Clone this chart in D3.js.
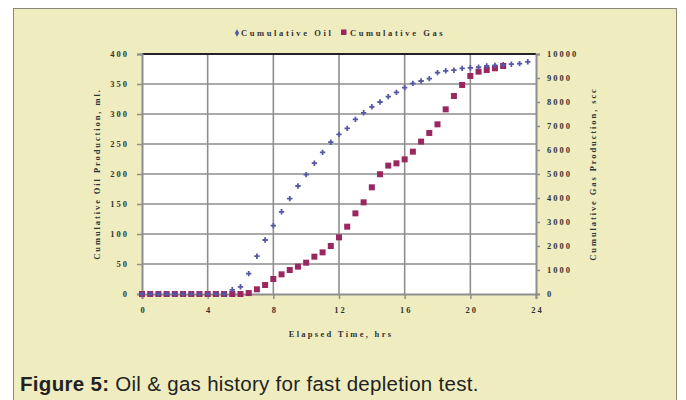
<!DOCTYPE html>
<html>
<head>
<meta charset="utf-8">
<script src="https://cdnjs.cloudflare.com/ajax/libs/d3/7.8.5/d3.min.js"></script>
<style>
  body { margin: 0; background: #fff; }
  svg text { font-family: "Liberation Serif", "Times New Roman", serif; }
  .tick text { font-size: 8.5px; font-weight: bold; fill: #333; letter-spacing: 2px; }
  .lbl { font-size: 8.5px; font-weight: bold; fill: #333; }
  .caption { font-family: "Liberation Sans", Arial, sans-serif; font-size: 20.5px; fill: #222; letter-spacing: 0.3px; }
</style>
</head>
<body>
<div id="chart"></div>
<script>
// elapsed time, hrs
const oilTime = [0, 0.5, 1, 1.5, 2, 2.5, 3, 3.5, 4, 4.5, 5, 5.5, 6, 6.5, 7, 7.5, 8, 8.5, 9, 9.5,
  10, 10.5, 11, 11.5, 12, 12.5, 13, 13.5, 14, 14.5, 15, 15.5, 16, 16.5, 17, 17.5, 18, 18.5, 19,
  19.5, 20, 20.5, 21, 21.5, 22, 22.5, 23, 23.5];
// cumulative oil, ml
const oilValues = [0, 0, 0, 0, 0, 0, 0, 0, 0, 0, 0, 7, 12, 34, 63, 90, 114, 137, 159, 180,
  199, 218, 236, 253, 266, 276, 291, 302, 312, 320, 329, 336, 344, 351, 355, 359, 369, 372, 373,
  376, 377, 378, 380, 381, 382, 383, 384, 387];

const gasTime = [0, 0.5, 1, 1.5, 2, 2.5, 3, 3.5, 4, 4.5, 5, 5.5, 6, 6.5, 7, 7.5, 8, 8.5, 9, 9.5,
  10, 10.5, 11, 11.5, 12, 12.5, 13, 13.5, 14, 14.5, 15, 15.5, 16, 16.5, 17, 17.5, 18, 18.5, 19,
  19.5, 20, 20.5, 21, 21.5, 22];
// cumulative gas, scc
const gasValues = [0, 0, 0, 0, 0, 0, 0, 0, 0, 0, 0, 0, 0, 40, 195, 375, 625, 820, 1000, 1140,
  1305, 1555, 1735, 2000, 2360, 2805, 3360, 3820, 4445, 4990, 5350, 5445, 5610, 5930, 6350, 6710,
  7070, 7695, 8250, 8710, 9085, 9265, 9335, 9405, 9500];

const xTicks = [0, 4, 8, 12, 16, 20, 24];
const oilTicks = [0, 50, 100, 150, 200, 250, 300, 350, 400];
const gasTicks = [0, 1000, 2000, 3000, 4000, 5000, 6000, 7000, 8000, 9000, 10000];

const W = 686, H = 400;
const plot = {left: 142, top: 54, right: 536, bottom: 294};
const oilColor = '#5658a6', gasColor = '#9a2860';

const svg = d3.select('#chart').append('svg')
  .attr('width', W).attr('height', H);

// panel
svg.append('rect')
  .attr('x', 13.5).attr('y', 8.5).attr('width', 663).attr('height', 400)
  .attr('fill', '#efedbf').attr('stroke', '#8a8a7a').attr('stroke-width', 1);

svg.append('rect')
  .attr('x', plot.left).attr('y', plot.top)
  .attr('width', plot.right - plot.left).attr('height', plot.bottom - plot.top)
  .attr('fill', '#fff');

const x = d3.scaleLinear().domain([0, 24]).range([plot.left, plot.right]);
const yOil = d3.scaleLinear().domain([0, 400]).range([plot.bottom, plot.top]);
const yGas = d3.scaleLinear().domain([0, 10000]).range([plot.bottom, plot.top]);

// grid
const grid = svg.append('g').attr('stroke', '#8e8e8e').attr('stroke-width', 1.6);
grid.selectAll('.vg').data(xTicks.slice(1, -1)).join('line')
  .attr('x1', d => x(d)).attr('x2', d => x(d))
  .attr('y1', plot.top).attr('y2', plot.bottom);
grid.selectAll('.hg').data(oilTicks.slice(1, -1)).join('line')
  .attr('x1', plot.left).attr('x2', plot.right)
  .attr('y1', d => yOil(d)).attr('y2', d => yOil(d));
svg.append('line')
  .attr('x1', plot.left).attr('x2', plot.right)
  .attr('y1', plot.top).attr('y2', plot.top)
  .attr('stroke', '#222').attr('stroke-width', 2);

// axes
function styleAxis(g) {
  g.select('.domain').attr('stroke', '#8e8e8e').attr('stroke-width', 2);
  g.selectAll('.tick line').attr('stroke', '#8e8e8e').attr('stroke-width', 1.5);
}
svg.append('g')
  .attr('transform', `translate(0,${plot.bottom})`)
  .call(d3.axisBottom(x).tickValues(xTicks).tickSize(5).tickSizeOuter(5).tickPadding(8))
  .call(styleAxis)
  .selectAll('.tick text').attr('dx', 1);
svg.append('g')
  .attr('transform', `translate(${plot.left},0)`)
  .call(d3.axisLeft(yOil).tickValues(oilTicks).tickSize(5).tickSizeOuter(5).tickPadding(8))
  .call(styleAxis);
svg.append('g')
  .attr('transform', `translate(${plot.right},0)`)
  .call(d3.axisRight(yGas).tickValues(gasTicks).tickFormat(d3.format('d'))
    .tickSize(4).tickSizeOuter(4).tickPadding(7))
  .call(styleAxis);

// titles
svg.append('text').attr('class', 'lbl')
  .attr('transform', `translate(100,${(plot.top + plot.bottom) / 2}) rotate(-90)`)
  .attr('text-anchor', 'middle').attr('letter-spacing', 1.9)
  .text('Cumulative Oil Production, ml.');
svg.append('text').attr('class', 'lbl')
  .attr('transform', `translate(596,${(plot.top + plot.bottom) / 2}) rotate(-90)`)
  .attr('text-anchor', 'middle').attr('letter-spacing', 1.9)
  .text('Cumulative Gas Production, scc');
svg.append('text').attr('class', 'lbl')
  .attr('x', (plot.left + plot.right) / 2 + 2).attr('y', 337)
  .attr('text-anchor', 'middle').attr('letter-spacing', 2.3)
  .text('Elapsed Time, hrs');

// legend
const legend = svg.append('g').attr('transform', 'translate(340,36)');
legend.append('path')
  .attr('d', d3.symbol(d3.symbolDiamond, 16)())
  .attr('transform', 'translate(-103,-3)').attr('fill', oilColor);
legend.append('text').attr('class', 'lbl').attr('x', -99).attr('y', 0)
  .attr('font-size', 9).attr('letter-spacing', 2.6)
  .text('Cumulative Oil');
legend.append('rect').attr('x', 1).attr('y', -6.5).attr('width', 5.5).attr('height', 5.5)
  .attr('fill', gasColor);
legend.append('text').attr('class', 'lbl').attr('x', 10).attr('y', 0)
  .attr('font-size', 9).attr('letter-spacing', 2.6)
  .text('Cumulative Gas');

// series
const gasData = gasTime.map((t, i) => ({t, v: gasValues[i]}));
const oilData = oilTime.map((t, i) => ({t, v: oilValues[i]}));

svg.append('g').selectAll('rect').data(gasData).join('rect')
  .attr('x', d => x(d.t) - 3).attr('y', d => yGas(d.v) - 3)
  .attr('width', 6).attr('height', 6)
  .attr('fill', gasColor);

svg.append('g').selectAll('path').data(oilData).join('path')
  .attr('d', d3.symbol(d3.symbolCross, 16)())
  .attr('transform', d => `translate(${x(d.t)},${yOil(d.v)})`)
  .attr('fill', oilColor);

// caption
const cap = svg.append('text').attr('class', 'caption').attr('x', 20).attr('y', 391);
cap.append('tspan').attr('font-weight', 'bold').text('Figure 5:');
cap.append('tspan').text(' Oil & gas history for fast depletion test.');
</script>
</body>
</html>
